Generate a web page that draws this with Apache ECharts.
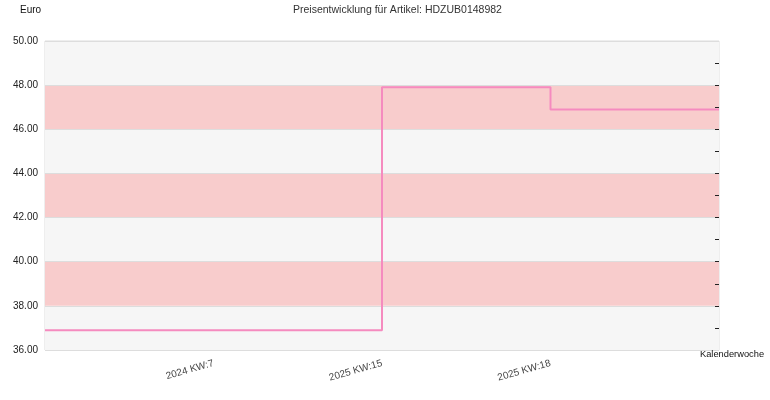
<!DOCTYPE html>
<html>
<head>
<meta charset="utf-8">
<script src="https://cdn.jsdelivr.net/npm/echarts@6/dist/echarts.min.js"></script>
<style>html,body{margin:0;padding:0;background:#fff}#c{width:770px;height:400px}</style>
</head>
<body>
<div id="c"></div>
<script>
const weeks = ['', '2024 KW:7', '2025 KW:15', '2025 KW:18', ''];
const prices = [36.9, 36.9, 47.9, 46.9, 46.9];
const rightTicks = [37, 38, 39, 40, 41, 42, 43, 44, 45, 46, 47, 48, 49];
const titleText = 'Preisentwicklung für Artikel: HDZUB0148982';
const yName = 'Euro';
const xName = 'Kalenderwoche';

const FONT = 'Liberation Sans, Arial, sans-serif';
const chart = echarts.init(document.getElementById('c'), null, {renderer: 'canvas'});
chart.setOption({
  animation: false,
  backgroundColor: '#fff',
  textStyle: {fontFamily: FONT},
  title: [
    {text: titleText, left: 288, top: 0,
     textStyle: {fontSize: 10.5, fontWeight: 'normal', color: '#333', fontFamily: FONT}},
    {text: yName, left: 15, top: 0,
     textStyle: {fontSize: 10, fontWeight: 'normal', color: '#111', fontFamily: FONT}},
    {text: xName, left: 695, top: 345,
     textStyle: {fontSize: 9.3, fontWeight: 'normal', color: '#111', fontFamily: FONT}}
  ],
  grid: {left: 45, right: 51, top: 41, bottom: 50, show: true, borderColor: '#ddd', borderWidth: 1},
  xAxis: {
    type: 'category', data: weeks, boundaryGap: false,
    axisLine: {show: false}, axisTick: {show: false},
    axisLabel: {rotate: 16, fontSize: 10, color: '#444', margin: 13, fontFamily: FONT, interval: 0},
    splitLine: {show: false}
  },
  yAxis: [
    {type: 'value', min: 36, max: 50, interval: 2,
     axisLine: {show: false}, axisTick: {show: false},
     axisLabel: {fontSize: 10, color: '#222', margin: 7, fontFamily: FONT,
                 formatter: v => v.toFixed(2)},
     splitLine: {show: true, lineStyle: {color: '#ddd', width: 1}},
     splitArea: {show: true, areaStyle: {color: ['#f6f6f6', '#f8cccc']}}},
    {type: 'value', position: 'right', min: 36, max: 50, interval: 1,
     axisLine: {show: false},
     axisTick: {show: true, inside: true, length: 4, lineStyle: {color: '#222'}, customValues: rightTicks},
     axisLabel: {show: false}, splitLine: {show: false}, splitArea: {show: false}}
  ],
  series: [{
    type: 'line', data: prices, step: 'end', yAxisIndex: 0,
    symbol: 'none', lineStyle: {color: '#f58bbf', width: 2}, itemStyle: {color: '#f58bbf'}
  }]
});
</script>
</body>
</html>
